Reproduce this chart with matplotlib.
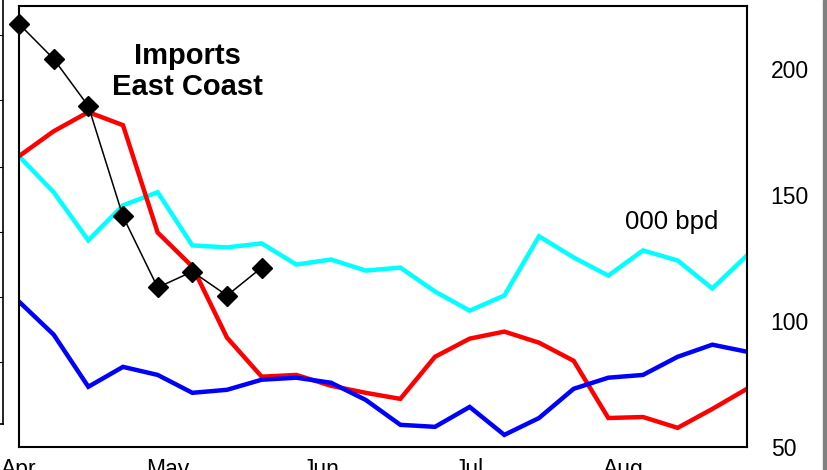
import matplotlib.pyplot as plt

plt.rcParams['font.family'] = ['Liberation Sans', 'DejaVu Sans']

# weekly values, 000 bpd
weeks = list(range(22))
cyan_vals = [165.4, 151.1, 132.0, 145.9, 151.1, 130.0, 129.2, 130.8, 122.4, 124.4, 120.0,
             121.2, 111.7, 104.1, 110.1, 133.6, 125.2, 118.0, 128.0, 124.0, 112.9, 126.0]
red_vals = [165.4, 175.3, 182.9, 177.7, 135.1, 121.6, 93.4, 77.9, 78.6, 74.3, 71.5,
            69.1, 85.8, 93.0, 95.8, 91.4, 84.2, 61.5, 61.9, 57.6, 65.1, 73.1]
blue_vals = [107.7, 94.6, 73.9, 81.8, 78.6, 71.5, 72.7, 76.7, 77.5, 75.5, 68.7,
             58.8, 58.0, 65.9, 54.8, 61.5, 73.1, 77.5, 78.6, 85.8, 90.6, 87.8]
black_weeks = [0, 1, 2, 3, 4, 5, 6, 7]
black_vals = [217.9, 204.0, 185.3, 141.5, 113.3, 119.6, 110.1, 121.2]

month_pos = [0, 30 / 7, 61 / 7, 91 / 7, 122 / 7]
month_labels = ['Apr', 'May', 'Jun', 'Jul', 'Aug']
ytick_vals = [50, 100, 150, 200]

W, H = 828, 470
fig = plt.figure(figsize=(W / 100, H / 100), dpi=100)

# main panel
ax = fig.add_axes([19 / W, (H - 447) / H, (747 - 19) / W, (447 - 6) / H])
ax.plot(weeks, cyan_vals, color='#00ffff', lw=3.2, solid_joinstyle='miter')
ax.plot(weeks, red_vals, color='#ff0000', lw=3.2, solid_joinstyle='miter')
ax.plot(weeks, blue_vals, color='#0000ff', lw=3.2, solid_joinstyle='miter')
ax.plot(black_weeks, black_vals, color='black', lw=1.1, marker='D', ms=10,
        markerfacecolor='black', markeredgecolor='black', clip_on=False, zorder=5)

ax.set_xlim(0, 21)
ax.set_ylim(50, 225)
ax.set_xticks(month_pos)
ax.set_xticklabels(month_labels, fontsize=16.5)
ax.yaxis.tick_right()
ax.set_yticks(ytick_vals)
ax.set_yticklabels([str(v) for v in ytick_vals], fontsize=16.5, ha='left')
ax.tick_params(axis='x', length=0, pad=8)
ax.tick_params(axis='y', length=0, pad=17)
for s in ax.spines.values():
    s.set_linewidth(1.5)

ax.text(0.232, 0.852, 'Imports\nEast Coast', transform=ax.transAxes, ha='center',
        va='center', fontsize=21, fontweight='bold', linespacing=1.15)
ax.text(0.896, 0.510, '000 bpd', transform=ax.transAxes, ha='center', va='center',
        fontsize=18.5)

# edge of the neighbouring panel on the left
axl = fig.add_axes([-0.2, (H - 424) / H, 0.2 + 3 / W, 424 / H])
axl.set_xlim(0, 1)
axl.set_ylim(0, 1)
for name in ['top', 'left']:
    axl.spines[name].set_visible(False)
for s in axl.spines.values():
    s.set_linewidth(1.2)
axl.set_xticks([])
axl.yaxis.tick_right()
axl.set_yticks([0.146, 0.299, 0.453, 0.606, 0.764, 0.917])
axl.set_yticklabels([])
axl.tick_params(axis='y', direction='in', length=3, width=0.8)

# grey strip at the right edge
fig.patches.append(plt.Rectangle((823 / W, 0), 5 / W, 1, transform=fig.transFigure,
                                 color='#808080', zorder=0))

fig.savefig('out.png', dpi=100)
